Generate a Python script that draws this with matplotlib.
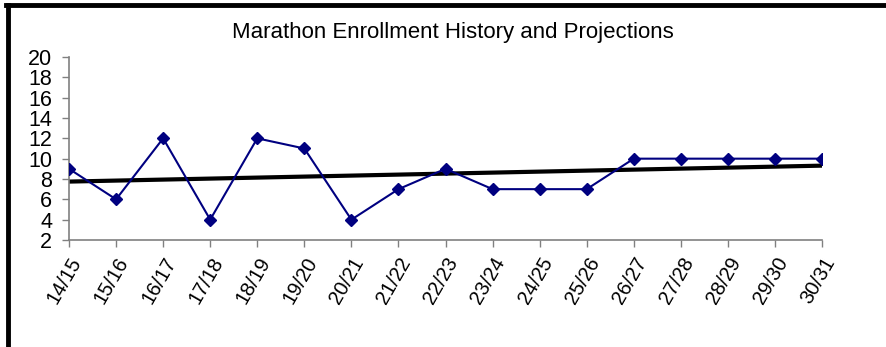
import matplotlib.pyplot as plt
import numpy as np
from matplotlib.lines import Line2D

plt.rcParams['font.family'] = ['Liberation Sans', 'DejaVu Sans']

seasons = ["14/15", "15/16", "16/17", "17/18", "18/19", "19/20", "20/21", "21/22",
           "22/23", "23/24", "24/25", "25/26", "26/27", "27/28", "28/29", "29/30", "30/31"]
enrollment = [9, 6, 12, 4, 12, 11, 4, 7, 9, 7, 7, 7, 10, 10, 10, 10, 10]
y_ticks = [2, 4, 6, 8, 10, 12, 14, 16, 18, 20]

fig = plt.figure(figsize=(8.86, 3.47), dpi=100)
ax = fig.add_axes([0.0779, 0.3084, 0.8499, 0.5273])

x = np.arange(len(seasons))
ax.plot(x, enrollment, color='#000080', lw=1.5, marker='D', markersize=6.5, zorder=3)

# linear trend
slope, icpt = np.polyfit(x, enrollment, 1)
ax.plot(x, slope * x + icpt, color='black', lw=3, zorder=2)

ax.set_xlim(0, len(seasons) - 1)
ax.set_ylim(2, 20)
ax.set_yticks(y_ticks)
ax.set_yticklabels([str(v) for v in y_ticks], fontsize=15.5)
ax.set_xticks(x)
ax.set_xticklabels(seasons, rotation=60, ha='right', rotation_mode='anchor', fontsize=14.5)
ax.tick_params(axis='both', direction='out', length=5, width=1, color='#808080')
ax.tick_params(axis='y', pad=7)
ax.tick_params(axis='x', pad=5)

for side in ['top', 'right']:
    ax.spines[side].set_visible(False)
for side in ['left', 'bottom']:
    ax.spines[side].set_color('#808080')
    ax.spines[side].set_linewidth(1.2)

fig.text(0.511, 0.905, "Marathon Enrollment History and Projections", ha='center', va='center', fontsize=16)

# outer frame (left and top edges)
fig.add_artist(Line2D([8 / 886, 8 / 886], [0, 1 - 5 / 347], color='black', lw=3.5, transform=fig.transFigure))
fig.add_artist(Line2D([6 / 886, 1], [1 - 5 / 347, 1 - 5 / 347], color='black', lw=3.5, transform=fig.transFigure))

fig.savefig("out.png", dpi=100)
